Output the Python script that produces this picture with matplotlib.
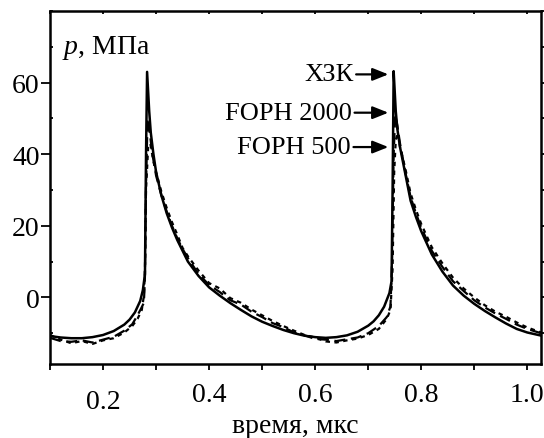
import matplotlib
matplotlib.use('Agg')
import matplotlib.pyplot as plt
from matplotlib.ticker import MultipleLocator
from matplotlib.transforms import ScaledTranslation

# ХЗК (solid)
XZK_T = [0.10, 0.12, 0.14, 0.16, 0.18, 0.20, 0.22, 0.24, 0.25, 0.26, 0.27, 0.275, 0.279,
         0.281, 0.283, 0.287, 0.29, 0.295, 0.30, 0.31, 0.32, 0.33, 0.34, 0.35, 0.36, 0.38,
         0.40, 0.42, 0.44, 0.46, 0.48, 0.50, 0.52, 0.54, 0.56, 0.58, 0.60, 0.62, 0.64, 0.66,
         0.68, 0.70, 0.71, 0.72, 0.73, 0.74, 0.744, 0.746, 0.748, 0.752, 0.755, 0.76, 0.77,
         0.78, 0.79, 0.80, 0.82, 0.84, 0.86, 0.88, 0.90, 0.92, 0.94, 0.96, 0.98, 1.00, 1.03]
XZK_P = [-10.8, -11.2, -11.4, -11.4, -11.1, -10.5, -9.4, -7.6, -6.2, -4.2, -1.0, 2.0, 6.5,
         40, 63, 52, 46, 40, 35, 28.5, 23.5, 19.5, 16, 13, 10, 6,
         2.8, 0.5, -1.6, -3.5, -5.3, -6.8, -8.0, -9.1, -10.0, -10.7, -11.1, -11.3, -11.1, -10.6,
         -9.6, -7.9, -6.7, -5.0, -2.6, 1.2, 4.5, 30, 63.2, 52, 47, 42, 34.5,
         27, 22.5, 18.5, 12, 7.2, 3.3, 0.5, -1.8, -3.8, -5.6, -7.3, -8.8, -9.8, -10.8]

# FOPH 2000 (dashed)
F2000_T = [0.10, 0.12, 0.14, 0.16, 0.18, 0.20, 0.22, 0.24, 0.255, 0.265, 0.272, 0.277, 0.279,
           0.281, 0.284, 0.288, 0.293, 0.30, 0.31, 0.32, 0.33, 0.34, 0.35, 0.36, 0.38, 0.40,
           0.42, 0.44, 0.46, 0.48, 0.50, 0.52, 0.54, 0.56, 0.58, 0.60, 0.62, 0.64, 0.66, 0.68,
           0.70, 0.72, 0.735, 0.742, 0.745, 0.748, 0.751, 0.755, 0.76, 0.77, 0.78, 0.79, 0.80,
           0.82, 0.84, 0.86, 0.88, 0.90, 0.92, 0.94, 0.96, 0.98, 1.00, 1.03]
F2000_P = [-11.3, -12.2, -12.4, -12.0, -12.6, -11.8, -11.0, -9.3, -7.5, -5.0, -3.0, -1.5, 6,
           32, 50, 46, 40, 34, 28.5, 24, 20, 16.5, 13.5, 11, 6.5, 3.5,
           1.5, -0.8, -2.0, -4.0, -5.5, -7.2, -8.3, -9.8, -10.6, -11.6, -11.8, -12.2, -11.7, -11.2,
           -10.0, -8.0, -5.5, -2.5, 10, 40, 51, 48, 43, 35, 28, 23.5, 19.5,
           13, 8.5, 4.5, 1.8, -0.8, -2.8, -4.5, -6.0, -7.6, -8.8, -10.2]

# FOPH 500 (short dashes)
F500_T = [0.10, 0.12, 0.14, 0.16, 0.18, 0.20, 0.22, 0.24, 0.255, 0.265, 0.273, 0.277, 0.279,
          0.281, 0.285, 0.289, 0.295, 0.30, 0.31, 0.32, 0.33, 0.34, 0.35, 0.36, 0.38, 0.40,
          0.42, 0.44, 0.46, 0.48, 0.50, 0.52, 0.54, 0.56, 0.58, 0.60, 0.62, 0.64, 0.66, 0.68,
          0.70, 0.72, 0.735, 0.742, 0.746, 0.749, 0.752, 0.756, 0.76, 0.77, 0.78, 0.79, 0.80,
          0.82, 0.84, 0.86, 0.88, 0.90, 0.92, 0.94, 0.96, 0.98, 1.00, 1.03]
F500_P = [-10.5, -11.8, -12.8, -12.2, -13.0, -12.0, -11.4, -9.8, -8.0, -6.0, -3.5, 0.5, 8,
          30, 42, 43, 38, 35, 29.5, 25, 21, 17.5, 13.8, 11.5, 7.5, 4.0,
          2.5, -0.2, -1.5, -3.4, -5.0, -6.6, -8.0, -9.3, -10.5, -11.2, -12.3, -12.6, -12.0, -11.5,
          -10.5, -8.8, -6.0, -3.5, 8, 35, 44, 46, 42, 36, 29, 24.5, 20.5,
          14, 9.5, 5.5, 2.5, 0.0, -2.2, -4.0, -5.4, -7.0, -8.4, -10.0]

X_TICKS = [0.2, 0.4, 0.6, 0.8, 1.0]
X_TICK_LABELS = ['0.2', '0.4', '0.6', '0.8', '1.0']
Y_TICKS = [0, 20, 40, 60]

LABELS = ['ХЗК', 'FOPH 2000', 'FOPH 500']
LABEL_Y = [62.3, 51.6, 42.0]
LABEL_X = [0.672, 0.669, 0.667]
ARROW_X = [0.738, 0.738, 0.738]

plt.rcParams['font.family'] = ['Liberation Serif', 'DejaVu Serif']
plt.rcParams['mathtext.fontset'] = 'custom'
plt.rcParams['mathtext.it'] = 'Liberation Serif:italic'

fig = plt.figure(figsize=(5.44, 4.39), dpi=100)
ax = fig.add_axes([0.092, 0.1686, 0.9026, 0.804])

ax.plot(XZK_T, XZK_P, color='black', lw=1.8)
ax.plot(F2000_T, F2000_P, color='black', lw=1.6, dashes=(5, 2.5))
ax.plot(F500_T, F500_P, color='black', lw=1.6, dashes=(2, 2))

ax.set_xlim(0.1, 1.026)
ax.set_ylim(-18.6, 80)
ax.set_xticks(X_TICKS)
ax.set_xticklabels(X_TICK_LABELS)
ax.xaxis.set_minor_locator(MultipleLocator(0.1))
ax.set_yticks(Y_TICKS)
ax.yaxis.set_minor_locator(MultipleLocator(10))

for s in ax.spines.values():
    s.set_linewidth(1.8)

ax.tick_params(axis='x', which='both', direction='out', length=4, width=1.3,
               labelsize=20, pad=9, top=True)
ax.tick_params(axis='y', which='major', direction='out', length=6.5, width=1.3,
               labelsize=20, pad=1, right=True)
ax.tick_params(axis='y', which='minor', direction='in', length=2.5, width=1.3, right=True)

# right/top ticks point inward
for t in ax.xaxis.get_major_ticks() + ax.xaxis.get_minor_ticks():
    t.tick2line.set_marker(3)
    t.tick2line.set_markersize(2.5)
for t in ax.yaxis.get_major_ticks() + ax.yaxis.get_minor_ticks():
    t.tick2line.set_marker(1)
    t.tick2line.set_markersize(2.5)

# the 0.2 label sits a little lower in the original
lbl = ax.get_xticklabels()[0]
lbl.set_transform(lbl.get_transform() + ScaledTranslation(0, -5 / 72, fig.dpi_scale_trans))

ax.set_xlabel('время, мкс', fontsize=20, labelpad=-1)
ax.text(0.024, 0.882, '$p$, МПа', transform=ax.transAxes, fontsize=20, va='baseline')

for name, y, xt, xa in zip(LABELS, LABEL_Y, LABEL_X, ARROW_X):
    ax.annotate(name, xy=(xa, y), xytext=(xt, y), ha='right', va='center',
                fontsize=19,
                arrowprops=dict(arrowstyle='-|>,head_length=0.5,head_width=0.2',
                                color='black', lw=1.6, shrinkA=0, shrinkB=0))

fig.savefig('out.png', dpi=100)
